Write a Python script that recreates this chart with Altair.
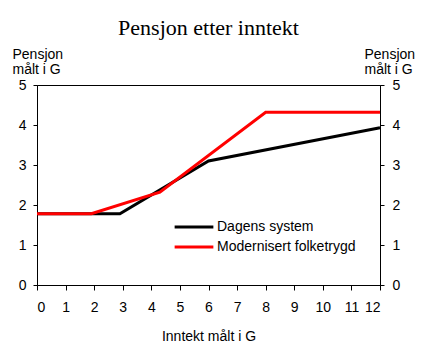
import altair as alt
import pandas as pd

series_names = ["Dagens system", "Modernisert folketrygd"]
dagens_x = [0, 2.9, 6, 12]
dagens_y = [1.78, 1.78, 3.1, 3.93]
mod_x = [0, 1.9, 4.3, 8, 12]
mod_y = [1.78, 1.78, 2.32, 4.32, 4.32]
x_ticks = list(range(0, 13))
y_ticks = [0, 1, 2, 3, 4, 5]
colors = ["#000000", "#ff0000"]

rows = []
for i, (x, y) in enumerate(zip(dagens_x, dagens_y)):
    rows.append({"serie": series_names[0], "x": x, "y": y, "o": i})
for i, (x, y) in enumerate(zip(mod_x, mod_y)):
    rows.append({"serie": series_names[1], "x": x, "y": y, "o": i})
df = pd.DataFrame(rows)

FONT = "Liberation Sans"

xenc = alt.X("x:Q", scale=alt.Scale(domain=[0, 12], nice=False),
             axis=alt.Axis(values=x_ticks, title="Inntekt målt i G", grid=False,
                           ticks=True, tickSize=5, tickWidth=1, tickOpacity=1,
                           tickColor="black", labelPadding=10,
                           titleBaseline="alphabetic",
                           titleY=55, titleFontWeight="normal"))

lines = alt.Chart(df).mark_line(strokeWidth=3, clip=False).encode(
    x=xenc,
    y=alt.Y("y:Q", scale=alt.Scale(domain=[0, 5], nice=False),
            axis=alt.Axis(values=y_ticks, title=["Pensjon", "målt i G"], grid=False,
                          orient="left", tickSize=4, labelPadding=7,
                          titleAngle=0, titleAlign="left", titleBaseline="alphabetic",
                          titleX=-25, titleY=-27, titleLineHeight=15,
                          titleFontWeight="normal")),
    color=alt.Color("serie:N", scale=alt.Scale(domain=series_names, range=colors),
                    legend=alt.Legend(title=None, orient="none", legendX=136, legendY=134,
                                      symbolType="stroke", symbolSize=1500,
                                      symbolStrokeWidth=3, labelFontSize=14,
                                      labelFont=FONT, labelColor="black",
                                      clipHeight=16, rowPadding=4, padding=0,
                                      labelOffset=2)),
    order="o:Q",
)

right = alt.Chart(df).mark_line(opacity=0).encode(
    x=xenc,
    y=alt.Y("y:Q", scale=alt.Scale(domain=[0, 5], nice=False),
            axis=alt.Axis(values=y_ticks, title=["Pensjon", "målt i G"], grid=False,
                          orient="right", tickSize=4, labelPadding=8,
                          titleAngle=0, titleAlign="left", titleBaseline="alphabetic",
                          titleX=-16, titleY=-27, titleLineHeight=15,
                          titleFontWeight="normal")),
    detail="serie:N",
)

chart = alt.layer(lines, right).resolve_scale(y="independent").properties(
    width=343, height=200,
    autosize=alt.AutoSizeParams(type="none"),
    padding={"left": 37, "top": 85, "right": 52, "bottom": 73},
    background="white",
    title=alt.Title("Pensjon etter inntekt", font="Liberation Serif", fontSize=22,
                    fontWeight="normal", anchor="middle", color="black", dy=-3),
).configure_view(stroke="black", strokeWidth=1).configure_axis(
    domainColor="black", tickColor="black", labelColor="black", titleColor="black",
    labelFont=FONT, titleFont=FONT, labelFontSize=14, titleFontSize=14,
)

chart.save("out.html", embed_options={"renderer": "svg", "actions": False})
